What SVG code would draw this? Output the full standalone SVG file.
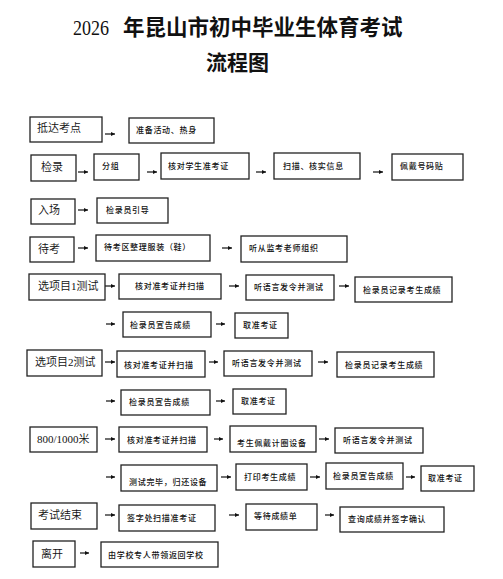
<svg xmlns="http://www.w3.org/2000/svg" width="503" height="579" viewBox="0 0 503 579">
<style>
.box{fill:#fff;stroke:#222;stroke-width:1.3}
.lbl{font-family:"Liberation Serif","Noto Sans CJK SC",serif;font-size:11px;font-weight:350;fill:#111}
.sm{font-family:"Noto Sans CJK SC",sans-serif;font-size:8px;font-weight:500;letter-spacing:0.7px;fill:#111}
.ttl{font-family:"Liberation Serif","Noto Sans CJK SC",serif;fill:#111}
.arr{stroke:#111;stroke-width:1.2;fill:none;marker-end:url(#ah)}
</style>
<defs>
<marker id="ah" viewBox="0 0 6 6" refX="6" refY="3" markerWidth="4.5" markerHeight="4.5" markerUnits="userSpaceOnUse" orient="auto">
<path d="M0,0 L6,3 L0,6 z" fill="#111"/>
</marker>
</defs>
<rect width="503" height="579" fill="#fff"/>
<g id="title">
<text class="ttl" x="73" y="35" font-size="22" textLength="36" lengthAdjust="spacingAndGlyphs">2026</text>
<text class="ttl" x="123" y="35" font-size="21.5" font-weight="bold">年昆山市初中毕业生体育考试</text>
<text class="ttl" x="206" y="70" font-size="21" font-weight="bold">流程图</text>
</g>
<g id="connectors">
<path class="arr" d="M105,134H115"/>
<path class="arr" d="M78,172H88"/>
<path class="arr" d="M147,172H157"/>
<path class="arr" d="M256,172H266"/>
<path class="arr" d="M373,172H383"/>
<path class="arr" d="M78,210H88"/>
<path class="arr" d="M78,248H88"/>
<path class="arr" d="M222,248H232"/>
<path class="arr" d="M105,286H115"/>
<path class="arr" d="M229,286H239"/>
<path class="arr" d="M339,286H349"/>
<path class="arr" d="M106,324H115"/>
<path class="arr" d="M216,324H225"/>
<path class="arr" d="M105,362H115"/>
<path class="arr" d="M209,362H218"/>
<path class="arr" d="M318,362H328"/>
<path class="arr" d="M106,401H115"/>
<path class="arr" d="M216,401H225"/>
<path class="arr" d="M105,439H115"/>
<path class="arr" d="M214,439H223"/>
<path class="arr" d="M319,439H329"/>
<path class="arr" d="M106,477H115"/>
<path class="arr" d="M221,477H231"/>
<path class="arr" d="M310,477H320"/>
<path class="arr" d="M406,477H415"/>
<path class="arr" d="M105,515H115"/>
<path class="arr" d="M229,515H239"/>
<path class="arr" d="M325,515H334"/>
<path class="arr" d="M80,553H89"/>
</g>
<g id="n1"><rect class="box" x="30" y="117" width="72" height="25"/><text class="lbl" x="37" y="132">抵达考点</text></g>
<g id="n2"><rect class="box" x="129" y="118" width="85" height="25"/><text class="sm" x="136" y="133">准备活动、热身</text></g>
<g id="n3"><rect class="box" x="31" y="155" width="45" height="26"/><text class="lbl" x="41" y="170.5">检录</text></g>
<g id="n4"><rect class="box" x="94" y="154" width="45" height="26"/><text class="sm" x="102" y="169">分组</text></g>
<g id="n5"><rect class="box" x="161" y="153" width="88" height="26"/><text class="sm" x="168" y="169">核对学生准考证</text></g>
<g id="n6"><rect class="box" x="274" y="153" width="86" height="26"/><text class="sm" x="283" y="169">扫描、核实信息</text></g>
<g id="n7"><rect class="box" x="392" y="154" width="71" height="26"/><text class="sm" x="400" y="169">佩戴号码贴</text></g>
<g id="n8"><rect class="box" x="31" y="199" width="44" height="25"/><text class="lbl" x="38" y="214">入场</text></g>
<g id="n9"><rect class="box" x="97" y="198" width="71" height="25"/><text class="sm" x="106" y="212.5">检录员引导</text></g>
<g id="n10"><rect class="box" x="30" y="237" width="44" height="25"/><text class="lbl" x="38" y="253">待考</text></g>
<g id="n11"><rect class="box" x="96" y="235" width="114" height="26"/><text class="sm" x="104" y="250">待考区整理服装（鞋）</text></g>
<g id="n12"><rect class="box" x="241" y="236" width="106" height="26"/><text class="sm" x="249" y="251">听从监考老师组织</text></g>
<g id="n13"><rect class="box" x="29" y="274" width="76" height="26"/><text class="lbl" x="38" y="290">选项目1测试</text></g>
<g id="n14"><rect class="box" x="119" y="274" width="102" height="25"/><text class="sm" x="135" y="289">核对准考证并扫描</text></g>
<g id="n15"><rect class="box" x="246" y="275" width="88" height="25"/><text class="sm" x="254" y="290">听语言发令并测试</text></g>
<g id="n16"><rect class="box" x="355" y="277" width="97" height="25"/><text class="sm" x="363" y="292.5">检录员记录考生成绩</text></g>
<g id="n17"><rect class="box" x="123" y="312" width="88" height="25"/><text class="sm" x="130" y="327.5">检录员宣告成绩</text></g>
<g id="n18"><rect class="box" x="235" y="313" width="53" height="25"/><text class="sm" x="243" y="328">取准考证</text></g>
<g id="n19"><rect class="box" x="27" y="350" width="75" height="26"/><text class="lbl" x="35" y="366">选项目2测试</text></g>
<g id="n20"><rect class="box" x="117" y="351" width="88" height="26"/><text class="sm" x="124" y="367.5">核对准考证并扫描</text></g>
<g id="n21"><rect class="box" x="224" y="351" width="88" height="25"/><text class="sm" x="232" y="366">听语言发令并测试</text></g>
<g id="n22"><rect class="box" x="337" y="352" width="97" height="25"/><text class="sm" x="345" y="367.5">检录员记录考生成绩</text></g>
<g id="n23"><rect class="box" x="121" y="390" width="89" height="25"/><text class="sm" x="129" y="405">检录员宣告成绩</text></g>
<g id="n24"><rect class="box" x="233" y="389" width="53" height="25"/><text class="sm" x="241" y="404">取准考证</text></g>
<g id="n25"><rect class="box" x="30" y="427" width="67" height="25"/><text class="lbl" x="37" y="443">800/1000米</text></g>
<g id="n26"><rect class="box" x="119" y="427" width="88" height="25"/><text class="sm" x="127" y="442.5">核对准考证并扫描</text></g>
<g id="n27"><rect class="box" x="230" y="426" width="86" height="26"/><text class="sm" x="237" y="446">考生佩戴计圈设备</text></g>
<g id="n28"><rect class="box" x="335" y="428" width="88" height="25"/><text class="sm" x="343" y="442.5">听语言发令并测试</text></g>
<g id="n29"><rect class="box" x="121" y="465" width="96" height="26"/><text class="sm" x="129" y="484.5">测试完毕，归还设备</text></g>
<g id="n30"><rect class="box" x="236" y="464" width="71" height="26"/><text class="sm" x="244" y="479.5">打印考生成绩</text></g>
<g id="n31"><rect class="box" x="326" y="463" width="77" height="26"/><text class="sm" x="333" y="478.5">检录员宣告成绩</text></g>
<g id="n32"><rect class="box" x="421" y="466" width="53" height="25"/><text class="sm" x="428" y="481">取准考证</text></g>
<g id="n33"><rect class="box" x="31" y="503" width="66" height="26"/><text class="lbl" x="38" y="519">考试结束</text></g>
<g id="n34"><rect class="box" x="119" y="505" width="96" height="26"/><text class="sm" x="127" y="521">签字处扫描准考证</text></g>
<g id="n35"><rect class="box" x="246" y="504" width="71" height="26"/><text class="sm" x="254" y="519">等待成绩单</text></g>
<g id="n36"><rect class="box" x="340" y="507" width="104" height="25"/><text class="sm" x="348" y="522">查询成绩并签字确认</text></g>
<g id="n37"><rect class="box" x="33" y="541" width="42" height="26"/><text class="lbl" x="41" y="557.5">离开</text></g>
<g id="n38"><rect class="box" x="101" y="542" width="117" height="25"/><text class="sm" x="108" y="557.5">由学校专人带领返回学校</text></g>
</svg>
